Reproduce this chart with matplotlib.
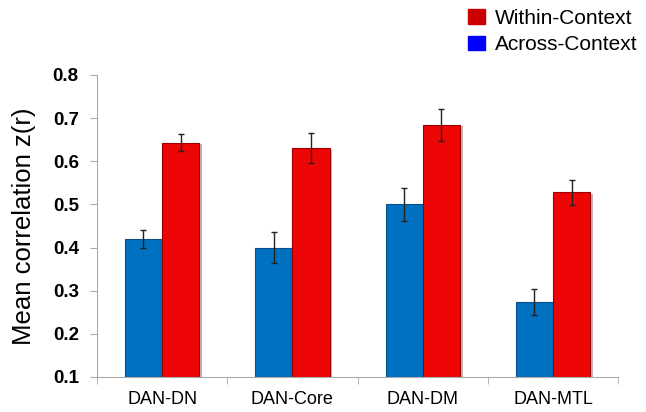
import matplotlib.pyplot as plt
import matplotlib.patheffects as pe
from matplotlib.patches import Patch
import numpy as np

plt.rcParams["font.family"] = ["Liberation Sans", "DejaVu Sans"]

groups = ["DAN-DN", "DAN-Core", "DAN-DM", "DAN-MTL"]
across = [0.420, 0.400, 0.500, 0.273]
across_err = [0.021, 0.035, 0.038, 0.030]
within = [0.643, 0.630, 0.685, 0.528]
within_err = [0.020, 0.035, 0.037, 0.029]

fig = plt.figure(figsize=(6.46, 4.12), dpi=100)
ax = fig.add_axes([0.150, 0.085, 0.807, 0.733])

x = np.arange(len(groups))
w = 0.285
b1 = ax.bar(x - w / 2, np.array(across) - 0.1, w, bottom=0.1, color="#0070C0",
            edgecolor="#0a4f8a", linewidth=0.8, zorder=2)
b2 = ax.bar(x + w / 2, np.array(within) - 0.1, w, bottom=0.1, color="#EE0505",
            edgecolor="#9a0000", linewidth=0.8, zorder=2)
for b in list(b1) + list(b2):
    b.set_path_effects([pe.SimplePatchShadow(offset=(2, -1), alpha=0.3), pe.Normal()])

ax.errorbar(x - w / 2, across, yerr=across_err, fmt="none", ecolor="#222222",
            elinewidth=1, capsize=2.5, capthick=1, zorder=3)
ax.errorbar(x + w / 2, within, yerr=within_err, fmt="none", ecolor="#222222",
            elinewidth=1, capsize=2.5, capthick=1, zorder=3)

ax.set_xlim(-0.5, len(groups) - 0.5)
ax.set_ylim(0.1, 0.8)
yt = np.arange(0.1, 0.81, 0.1)
ax.set_yticks(yt)
ax.set_yticklabels([f"{v:.1f}" for v in yt], fontsize=13.5, fontweight="bold")
ax.set_xticks(x)
ax.set_xticklabels(groups, fontsize=13)
ax.tick_params(axis="x", length=0, pad=10)
ax.set_xticks(np.arange(-0.5, len(groups)), minor=True)
ax.tick_params(axis="x", which="minor", length=5, color="#aaaaaa")
ax.tick_params(axis="y", length=5, color="#aaaaaa", pad=8)
ax.set_ylabel("Mean correlation z(r)", fontsize=18.5, labelpad=12)

for s in ["top", "right"]:
    ax.spines[s].set_visible(False)
for s in ["left", "bottom"]:
    ax.spines[s].set_color("#aaaaaa")

handles = [Patch(color="#CC0000", label="Within-Context"),
           Patch(color="#0000FF", label="Across-Context")]
fig.legend(handles=handles, loc="upper left", bbox_to_anchor=(0.7245, 0.978),
           frameon=False, fontsize=15, handlelength=0.8, handleheight=0.7,
           labelspacing=0.35, handletextpad=0.5, borderpad=0, borderaxespad=0)

fig.savefig("out.png", dpi=100)
